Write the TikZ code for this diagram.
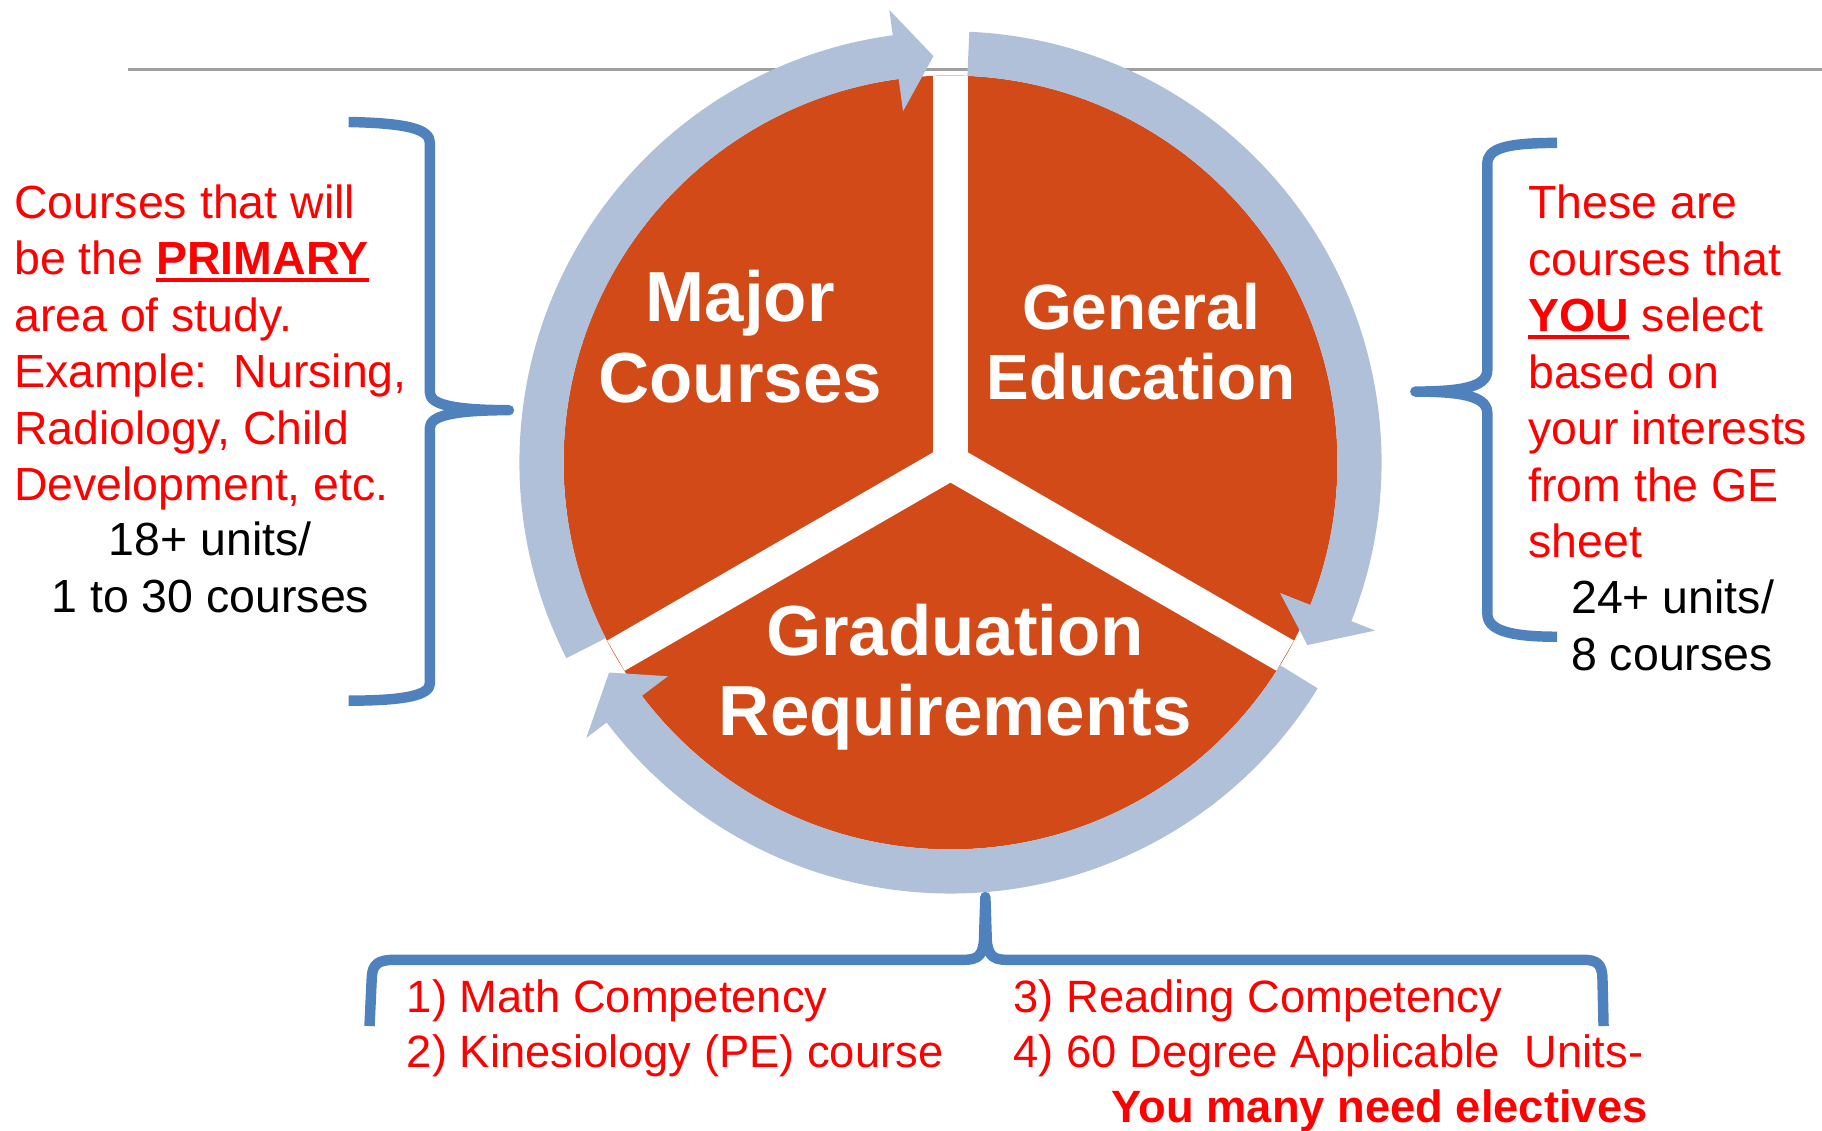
\documentclass[tikz,border=0pt]{standalone}
\usepackage{fontspec}
\setmainfont{Liberation Sans}
\definecolor{pieorange}{RGB}{210,74,24}
\definecolor{ringblue}{RGB}{177,192,217}
\definecolor{braceblue}{RGB}{79,129,189}
\definecolor{notered}{RGB}{255,0,0}
\newcommand{\ulword}[1]{\setbox0\hbox{#1}\rlap{\rule[-6pt]{\wd0}{3pt}}\box0}
\begin{document}
\begin{tikzpicture}[line cap=butt,line join=round,x=1pt,y=1pt,
  pie/.style={fill=pieorange},
  ring/.style={fill=ringblue},
  brace/.style={draw=braceblue,line width=9pt},
  inlab/.style={text=white,font=\bfseries\fontsize{61}{69}\selectfont,align=center,inner sep=0},
  note/.style={text=notered,font=\fontsize{40}{48.6}\selectfont,align=left,inner sep=0},
  units/.style={text=black,font=\fontsize{40}{48.6}\selectfont,align=center,inner sep=0},
  req/.style={text=notered,font=\fontsize{39}{48}\selectfont,align=left,inner sep=0}]
\useasboundingbox (0,0) rectangle (1568,973);
\draw[gray!75,line width=2.5pt] (110,913) -- (1568,913);
\coordinate (C) at (818,575);
\fill[pie] (C) circle[radius=333];
\draw[white,line width=30pt] (C) -- ++(90:332.5);
\draw[white,line width=30pt] (C) -- ++(210:332.5);
\draw[white,line width=30pt] (C) -- ++(330:332.5);
\begin{scope}[shift={(C)}]
\fill[ring] (207:371) arc[start angle=207,end angle=97.7,radius=371] -- (97.7:393) -- (92.4:350) -- (97.7:305) -- (97.7:333) arc[start angle=97.7,end angle=207,radius=333] -- cycle;
\fill[ring] (87.5:371) arc[start angle=87.5,end angle=-21.6,radius=371] -- (-21.6:393) -- (-27.1:345) -- (-21.6:305) -- (-21.6:333) arc[start angle=-21.6,end angle=87.5,radius=333] -- cycle;
\fill[ring] (328.4:371) arc[start angle=328.4,end angle=217.1,radius=371] -- (217.1:393) -- (211.6:345) -- (217.1:305) -- (217.1:333) arc[start angle=217.1,end angle=328.4,radius=333] -- cycle;
\end{scope}
\node[inlab,anchor=base] (major) at (637,627) {Major\\Courses};
\node[inlab,anchor=base,font=\bfseries\fontsize{55}{60}\selectfont] (gened) at (982,629) {General\\Education};
\node[inlab,anchor=base] (grad) at (822,340) {Graduation\\Requirements};
\draw[brace] (300,868) .. controls (350,867) and (370,862) .. (370,850) -- (370,635) .. controls (370,625) and (390,620) .. (438,620) .. controls (390,620) and (370,615) .. (370,605) -- (370,385) .. controls (370,375) and (350,370) .. (300,370);
\draw[brace] (1340,850) .. controls (1295,850) and (1280,845) .. (1280,832) -- (1280,655) .. controls (1280,642) and (1265,636) .. (1218,636) .. controls (1265,636) and (1280,630) .. (1280,617) -- (1280,445) .. controls (1280,432) and (1295,425) .. (1340,425);
\draw[brace] (318,90) -- (320,133) .. controls (321,143) and (325,147) .. (340,147) -- (830,147) .. controls (843,147) and (847,152) .. (847,170) -- (848,201) -- (849,170) .. controls (849,152) and (853,147) .. (866,147) -- (1362,147) .. controls (1375,147) and (1378,143) .. (1379,133) -- (1380,90);
\node[note,anchor=base west] (majnote) at (12,542) {Courses that will\\be the \textbf{\ulword{PRIMARY}}\\area of study.\\Example:\ \ Nursing,\\Radiology, Child\\Development, etc.};
\node[units,anchor=base] (majunits) at (181,446) {18+ units/\\1 to 30 courses};
\node[note,anchor=base west] (genote) at (1315,493) {These are\\courses that\\\textbf{\ulword{YOU}} select\\based on\\your interests\\from the GE\\sheet};
\node[note,text=black,anchor=base west] (genunits) at (1352,396) {24+ units/\\8 courses};
\node[req,anchor=base west] (reqa) at (350,54) {1) Math Competency\\2) Kinesiology (PE) course};
\node[req,anchor=base west] (reqb) at (872,54) {3) Reading Competency\\4) 60 Degree Applicable\ \ Units-};
\node[req,anchor=base east,font=\bfseries\fontsize{39}{48}\selectfont] (reqc) at (1418,7) {You many need electives};
\end{tikzpicture}
\end{document}
